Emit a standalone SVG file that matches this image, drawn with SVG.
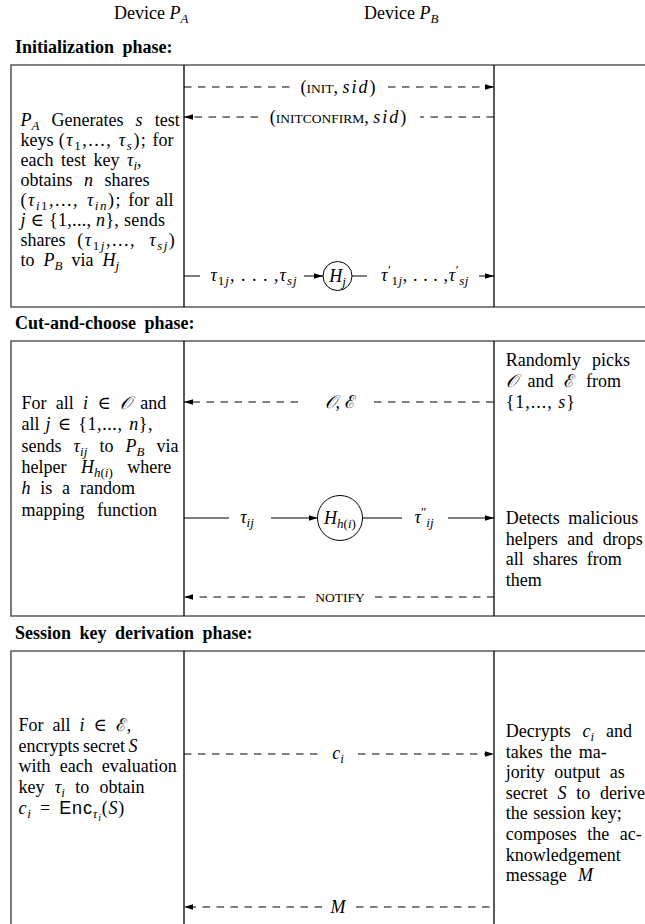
<svg xmlns="http://www.w3.org/2000/svg" width="645" height="924" viewBox="0 0 645 924">
<style>
.t{font-family:"Liberation Serif","DejaVu Serif",serif;font-size:18px;fill:#000}
.h{font-weight:bold}
.m{font-style:italic}
.s{font-size:13px}
.ss{font-size:10px}
.sc{font-size:13.5px}
.ls{letter-spacing:1.5px}
.sf{font-family:"Liberation Sans","DejaVu Sans",sans-serif;font-style:normal}
.box{fill:none;stroke:#5a5a5a;stroke-width:1.6}
.dv{stroke:#000;stroke-width:1.3}
.dash{stroke:#000;stroke-width:1;stroke-dasharray:7.5 6.5;fill:none}
.sol{stroke:#000;stroke-width:1;fill:none}
.cir{fill:#fff;stroke:#000;stroke-width:1}
</style>
<defs>
<marker id="ah" markerWidth="9" markerHeight="7" refX="9" refY="3.5" orient="auto" markerUnits="userSpaceOnUse"><path d="M0,0.7 L9,3.5 L0,6.3 z" fill="#000"/></marker>
</defs>

<g id="headers">
<text class="t" x="114" y="19">Device <tspan class="m">P</tspan><tspan class="s m" dy="4">A</tspan></text>
<text class="t" x="364" y="19">Device <tspan class="m">P</tspan><tspan class="s m" dy="4">B</tspan></text>
<text class="t h" x="15" y="53" word-spacing="4">Initialization phase:</text>
<text class="t h" x="15" y="329" word-spacing="4">Cut-and-choose phase:</text>
<text class="t h" x="15" y="639" word-spacing="4">Session key derivation phase:</text>
</g>

<g id="frames">
<path class="box" d="M660,65 H11 V307 H660"/>
<path class="box" d="M660,341 H11 V616 H660"/>
<path class="box" d="M660,651 H11 V930"/>
<line class="dv" x1="184" y1="65" x2="184" y2="307"/>
<line class="dv" x1="494" y1="65" x2="494" y2="307"/>
<line class="dv" x1="184" y1="341" x2="184" y2="616"/>
<line class="dv" x1="494" y1="341" x2="494" y2="616"/>
<line class="dv" x1="184" y1="651" x2="184" y2="930"/>
<line class="dv" x1="494" y1="651" x2="494" y2="930"/>
</g>

<g id="connectors">
<line class="dash" x1="184" y1="87" x2="291" y2="87"/>
<line class="dash" x1="388" y1="87" x2="494" y2="87" marker-end="url(#ah)"/>
<line class="dash" x1="494" y1="117" x2="420" y2="117"/>
<line class="dash" x1="258" y1="117" x2="184" y2="117" marker-end="url(#ah)"/>
<line class="sol" x1="184" y1="276" x2="200" y2="276"/>
<line class="sol" x1="304" y1="276" x2="323" y2="276" marker-end="url(#ah)"/>
<line class="sol" x1="352" y1="276" x2="367" y2="276"/>
<line class="sol" x1="479" y1="276" x2="494" y2="276" marker-end="url(#ah)"/>
<line class="dash" x1="298" y1="402" x2="184" y2="402" marker-end="url(#ah)"/>
<line class="dash" x1="374" y1="402" x2="494" y2="402"/>
<line class="sol" x1="184" y1="518" x2="229" y2="518"/>
<line class="sol" x1="271" y1="518" x2="317.5" y2="518" marker-end="url(#ah)"/>
<line class="sol" x1="362.5" y1="518" x2="402" y2="518"/>
<line class="sol" x1="448" y1="518" x2="494" y2="518" marker-end="url(#ah)"/>
<line class="dash" x1="305" y1="597" x2="184" y2="597" marker-end="url(#ah)"/>
<line class="dash" x1="375" y1="597" x2="494" y2="597"/>
<line class="dash" x1="184" y1="754" x2="324" y2="754"/>
<line class="dash" x1="358" y1="754" x2="494" y2="754" marker-end="url(#ah)"/>
<line class="dash" x1="322" y1="907" x2="184" y2="907" marker-end="url(#ah)"/>
<line class="dash" x1="356" y1="907" x2="494" y2="907"/>
</g>

<g id="connector-labels">
<text class="t" x="338" y="93" text-anchor="middle">(<tspan class="sc">INIT</tspan>, <tspan class="m" letter-spacing="2">sid</tspan>)</text>
<text class="t" x="338" y="123" text-anchor="middle">(<tspan class="sc">INITCONFIRM</tspan>, <tspan class="m" letter-spacing="2">sid</tspan>)</text>
<text class="t" x="254" y="281" text-anchor="middle" letter-spacing="1"><tspan class="m">τ</tspan><tspan class="s" dy="4">1<tspan class="m">j</tspan></tspan><tspan dy="-4">, . . . ,</tspan><tspan class="m">τ</tspan><tspan class="s m" dy="4">sj</tspan></text>
<text class="t" x="425" y="281" text-anchor="middle" letter-spacing="0.6"><tspan class="m">τ</tspan><tspan class="s" dy="-7">′</tspan><tspan class="s" dy="11">1<tspan class="m">j</tspan></tspan><tspan dy="-4">, . . . ,</tspan><tspan class="m">τ</tspan><tspan class="s" dy="-7">′</tspan><tspan class="s m" dy="11">sj</tspan></text>
<text class="t" x="340" y="408" text-anchor="middle"><tspan class="m">𝒪</tspan>, ℰ</text>
<text class="t" x="247" y="523" text-anchor="middle"><tspan class="m">τ</tspan><tspan class="s m" dy="4">ij</tspan></text>
<text class="t" x="424" y="523" text-anchor="middle"><tspan class="m">τ</tspan><tspan class="s" dy="-7">″</tspan><tspan class="s m" dy="11">ij</tspan></text>
<text class="t sc" x="340" y="602" text-anchor="middle">NOTIFY</text>
<text class="t" x="338" y="759" text-anchor="middle"><tspan class="m">c</tspan><tspan class="s m" dy="4">i</tspan></text>
<text class="t m" x="338" y="913" text-anchor="middle">M</text>
</g>

<g id="helper-Hj">
<circle class="cir" cx="337.5" cy="276" r="14.5"/>
<text class="t" x="337.5" y="282" text-anchor="middle"><tspan class="m">H</tspan><tspan class="s m" dy="4">j</tspan></text>
</g>

<g id="helper-Hhi">
<circle class="cir" cx="340" cy="518" r="22.5"/>
<text class="t" x="340" y="524" text-anchor="middle"><tspan class="m">H</tspan><tspan class="s" dy="4"><tspan class="m">h</tspan>(<tspan class="m">i</tspan>)</tspan></text>
</g>

<g id="init-PA">
<text class="t" x="20.5" y="126" word-spacing="7.6"><tspan class="m">P</tspan><tspan class="s m" dy="4">A</tspan><tspan dy="-4"> Generates </tspan><tspan class="m">s</tspan> test</text>
<text class="t" x="20.5" y="146" word-spacing="0.7">keys <tspan class="ls">(<tspan class="m">τ</tspan><tspan class="s" dy="4">1</tspan><tspan dy="-4">,...,</tspan> <tspan class="m">τ</tspan><tspan class="s m" dy="4">s</tspan><tspan dy="-4">);</tspan></tspan> for</text>
<text class="t" x="20.5" y="166" word-spacing="3">each test key <tspan class="m">τ</tspan><tspan class="s m" dy="4">i</tspan><tspan dy="-4">,</tspan></text>
<text class="t" x="20.5" y="186" word-spacing="7">obtains <tspan class="m">n</tspan> shares</text>
<text class="t" x="20.5" y="206" word-spacing="1.8"><tspan class="ls">(<tspan class="m">τ</tspan><tspan class="s" dy="4"><tspan class="m">i</tspan>1</tspan><tspan dy="-4">,...,</tspan> <tspan class="m">τ</tspan><tspan class="s m" dy="4">in</tspan><tspan dy="-4">);</tspan></tspan> for all</text>
<text class="t" x="20.5" y="226" word-spacing="0" letter-spacing="0.3"><tspan class="m">j</tspan> ∈ {1,..., <tspan class="m">n</tspan>}, sends</text>
<text class="t" x="20.5" y="246" word-spacing="7.3">shares <tspan class="ls">(<tspan class="m">τ</tspan><tspan class="s" dy="4">1<tspan class="m">j</tspan></tspan><tspan dy="-4">,...,</tspan> <tspan class="m">τ</tspan><tspan class="s m" dy="4">sj</tspan><tspan dy="-4">)</tspan></tspan></text>
<text class="t" x="20.5" y="266" word-spacing="4.5">to <tspan class="m">P</tspan><tspan class="s m" dy="4">B</tspan><tspan dy="-4"> via </tspan><tspan class="m">H</tspan><tspan class="s m" dy="4">j</tspan></text>
</g>

<g id="cut-PA">
<text class="t" x="21.5" y="409" word-spacing="4.8">For all <tspan class="m">i</tspan> ∈ <tspan class="m">𝒪</tspan> and</text>
<text class="t" x="21.5" y="430.3" word-spacing="1.5">all <tspan letter-spacing="0.6"><tspan class="m">j</tspan> ∈ {1,..., <tspan class="m">n</tspan>},</tspan></text>
<text class="t" x="21.5" y="451.6" word-spacing="7.6">sends <tspan class="m">τ</tspan><tspan class="s m" dy="4">ij</tspan><tspan dy="-4"> to </tspan><tspan class="m">P</tspan><tspan class="s m" dy="4">B</tspan><tspan dy="-4"> via</tspan></text>
<text class="t" x="21.5" y="473" word-spacing="10">helper <tspan class="m">H</tspan><tspan class="s" dy="4"><tspan class="m">h</tspan>(<tspan class="m">i</tspan>)</tspan><tspan dy="-4"> where</tspan></text>
<text class="t" x="21.5" y="494.3" word-spacing="5.3"><tspan class="m">h</tspan> is a random</text>
<text class="t" x="21.5" y="515.6" word-spacing="8">mapping function</text>
</g>

<g id="cut-PB">
<text class="t" x="505.7" y="366" word-spacing="6.8">Randomly picks</text>
<text class="t" x="505.7" y="387.2" word-spacing="6.3"><tspan class="m">𝒪</tspan> and ℰ from</text>
<text class="t" x="505.7" y="408.4" letter-spacing="1">{1,..., <tspan class="m">s</tspan>}</text>
<text class="t" x="505.7" y="524" word-spacing="4">Detects malicious</text>
<text class="t" x="505.7" y="544.7" word-spacing="5">helpers and drops</text>
<text class="t" x="505.7" y="565.4" word-spacing="4.6">all shares from</text>
<text class="t" x="505.7" y="586.1">them</text>
</g>

<g id="session-PA">
<text class="t" x="18.5" y="731" word-spacing="4.5">For all <tspan class="m">i</tspan> ∈ ℰ,</text>
<text class="t" x="18.5" y="751.7" word-spacing="-1">encrypts secret <tspan class="m">S</tspan></text>
<text class="t" x="18.5" y="772.3" word-spacing="4.7">with each evaluation</text>
<text class="t" x="18.5" y="793" word-spacing="5.8">key <tspan class="m">τ</tspan><tspan class="s m" dy="4">i</tspan><tspan dy="-4"> to obtain</tspan></text>
<text class="t" x="18.5" y="813.6" word-spacing="3" letter-spacing="0.8"><tspan class="m">c</tspan><tspan class="s m" dy="4">i</tspan><tspan dy="-4"> = </tspan><tspan class="sf">Enc</tspan><tspan class="s m" dy="4">τ</tspan><tspan class="ss m" dy="3">i</tspan><tspan dy="-7">(</tspan><tspan class="m">S</tspan>)</text>
</g>

<g id="session-PB">
<text class="t" x="505.7" y="737" word-spacing="7.3">Decrypts <tspan class="m">c</tspan><tspan class="s m" dy="4">i</tspan><tspan dy="-4"> and</tspan></text>
<text class="t" x="505.7" y="757.6" word-spacing="2.6">takes the ma-</text>
<text class="t" x="505.7" y="778.2" word-spacing="5">jority output as</text>
<text class="t" x="505.7" y="798.8" word-spacing="5.3">secret <tspan class="m">S</tspan> to derive</text>
<text class="t" x="505.7" y="819.4" word-spacing="1">the session key;</text>
<text class="t" x="505.7" y="840" word-spacing="6">composes the ac-</text>
<text class="t" x="505.7" y="860.6">knowledgement</text>
<text class="t" x="505.7" y="881.2" word-spacing="6.8">message <tspan class="m">M</tspan></text>
</g>
</svg>
